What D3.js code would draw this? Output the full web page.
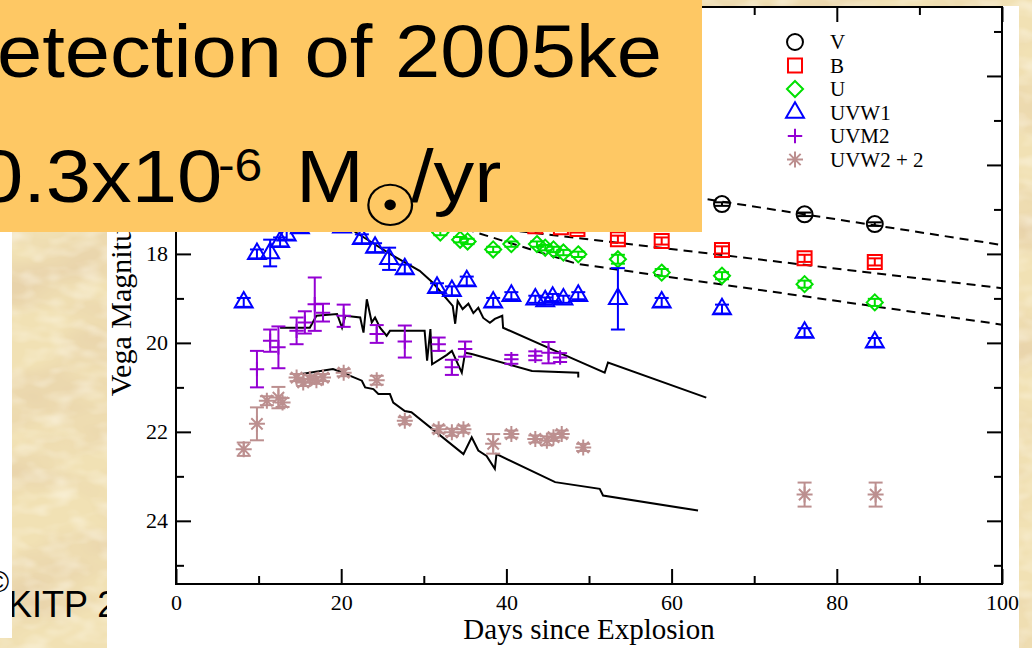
<!DOCTYPE html>
<html>
<head>
<meta charset="utf-8">
<script src="https://cdnjs.cloudflare.com/ajax/libs/d3/7.8.5/d3.min.js"></script>
<style>
  html, body { margin: 0; padding: 0; background: #efdcae; overflow: hidden; }
  svg { display: block; }
</style>
</head>
<body>
<svg id="chart" width="1032" height="648"></svg>
<script>
// ---- photometry of SN 2005ke (days since explosion, Vega magnitude, 1-sigma error) ----
const bandNames = ["V", "B", "U", "UVW1", "UVM2", "UVW2 + 2"];

const vDays = [66.1, 76.1, 84.6];
const vMags = [16.88, 17.11, 17.33];
const vErrs = [0.04, 0.04, 0.04];

const bDays = [43.5, 46.6, 48.6, 53.5, 58.8, 66.1, 76.1, 84.6];
const bMags = [17.38, 17.40, 17.44, 17.67, 17.71, 17.91, 18.10, 18.18];
const bErrs = [0.08, 0.08, 0.08, 0.08, 0.08, 0.08, 0.08, 0.08];

const uDays = [32.0, 34.4, 35.3, 38.4, 40.6, 43.7, 44.7, 45.7, 46.9, 48.7, 53.5, 58.8, 66.1, 76.1, 84.6];
const uMags = [17.52, 17.68, 17.72, 17.90, 17.78, 17.78, 17.86, 17.90, 17.97, 18.01, 18.12, 18.42, 18.49, 18.68, 19.09];
const uErrs = [0.06, 0.06, 0.06, 0.06, 0.06, 0.06, 0.06, 0.06, 0.06, 0.06, 0.1, 0.08, 0.08, 0.08, 0.08];

const uvw1Days = [8.2, 9.8, 11.4, 12.6, 13.4, 15.0, 20.1, 22.5, 24.1, 25.8, 27.7, 31.6, 33.4, 35.2, 38.4, 40.6, 43.5, 44.7, 45.6, 46.9, 48.7, 53.5, 58.8, 66.1, 76.1, 84.6];
const uvw1Mags = [19.09, 18.0, 17.98, 17.73, 17.58, 17.42, 17.40, 17.66, 17.86, 18.11, 18.34, 18.76, 18.83, 18.61, 19.09, 18.94, 19.02, 19.06, 18.98, 19.02, 18.94, 19.01, 19.09, 19.24, 19.77, 19.99];
const uvw1Errs = [0.1, 0.1, 0.3, 0.1, 0.1, 0.1, 0.1, 0.1, 0.1, 0.25, 0.1, 0.1, 0.1, 0.1, 0.1, 0.08, 0.08, 0.08, 0.08, 0.08, 0.08, 0.69, 0.1, 0.1, 0.1, 0.1];

const uvm2Days = [9.8, 11.4, 12.4, 14.6, 15.6, 16.8, 17.8, 20.3, 24.3, 27.7, 31.8, 33.4, 35.0, 40.6, 43.5, 45.1, 46.5];
const uvm2Mags = [20.59, 19.95, 20.1, 19.73, 19.54, 19.13, 19.32, 19.39, 19.8, 19.97, 20.03, 20.55, 20.14, 20.37, 20.29, 20.22, 20.33];
const uvm2Errs = [0.41, 0.25, 0.47, 0.3, 0.25, 0.6, 0.2, 0.25, 0.2, 0.36, 0.15, 0.17, 0.17, 0.1, 0.1, 0.24, 0.1];

const uvw2Days = [8.2, 9.8, 11.0, 12.4, 12.9, 14.6, 15.4, 16.2, 17.0, 17.8, 20.3, 24.3, 27.7, 31.8, 33.4, 34.8, 38.4, 40.6, 43.5, 44.9, 45.7, 46.7, 49.3, 76.1, 84.7];
const uvw2Mags = [22.39, 21.82, 21.30, 21.23, 21.34, 20.78, 20.89, 20.81, 20.84, 20.78, 20.67, 20.84, 21.75, 21.94, 22.01, 21.94, 22.27, 22.05, 22.16, 22.20, 22.12, 22.05, 22.35, 23.41, 23.41];
const uvw2Errs = [0.15, 0.37, 0.1, 0.24, 0.1, 0.08, 0.08, 0.08, 0.08, 0.08, 0.08, 0.1, 0.08, 0.08, 0.08, 0.08, 0.22, 0.08, 0.08, 0.1, 0.08, 0.08, 0.08, 0.27, 0.27];

// ---- model light curves (solid) ----
const uvw1ModelDays = [20.5, 21.9, 25.9, 29.5, 31.1, 33.5, 33.8, 34.1, 34.7, 35.4, 36.0, 36.6, 37.2, 38.0, 38.6, 39.5, 39.6, 48.1, 51.9, 52.3, 64.2];
const uvw1ModelMags = [17.37, 17.53, 18.0, 18.38, 18.65, 19.17, 19.57, 19.06, 19.24, 19.12, 19.33, 19.21, 19.44, 19.55, 19.46, 19.39, 19.66, 20.36, 20.67, 20.44, 21.23];

const uvm2ModelDays = [12.6, 16.2, 17.0, 19.5, 20.1, 20.5, 22.3, 22.7, 23.1, 23.7, 24.1, 24.7, 25.5, 25.9, 30.1, 30.4, 30.8, 31.0, 32.8, 33.4, 34.6, 35.0, 35.8, 43.1, 48.7, 48.7];
const uvm2ModelMags = [19.66, 19.66, 19.39, 19.35, 19.66, 19.39, 19.43, 19.77, 19.02, 19.54, 19.43, 19.66, 19.84, 19.73, 19.73, 20.4, 19.69, 20.48, 20.27, 20.18, 20.67, 20.22, 20.25, 20.63, 20.67, 20.78];

const uvw2ModelDays = [15.2, 19.0, 20.3, 21.1, 22.5, 22.9, 23.9, 24.5, 25.9, 26.3, 27.7, 28.5, 34.8, 35.8, 36.6, 37.6, 38.6, 38.8, 45.9, 51.3, 51.7, 63.2];
const uvw2ModelMags = [20.7, 20.59, 20.67, 20.74, 20.85, 21.0, 21.04, 21.15, 21.15, 21.34, 21.53, 21.56, 22.5, 22.12, 22.42, 22.54, 22.83, 22.5, 23.13, 23.28, 23.43, 23.77];

// ---- linear decline fits (dashed) ----
const vFitDays = [50, 100];
const vFitMags = [16.36, 17.80];
const bFitDays = [38, 100];
const bFitMags = [17.41, 18.77];
const uFitDays = [35, 48.5, 100];
const uFitMags = [17.44, 18.22, 19.59];

// ---- axis ticks ----
const xMajorTicks = [0, 20, 40, 60, 80, 100];
const xMinorTicks = [10, 30, 50, 70, 90];
const yLabelledTicks = [18, 20, 22, 24];
const yMajorTicks = [14, 16, 18, 20, 22, 24];
const yMinorTicks = [13, 15, 17, 19, 21, 23, 25];

const W = 1032, H = 648;
const svg = d3.select("#chart");
const defs = svg.append("defs");

// parchment texture: soft broad mottling with a faint grain
const f1 = defs.append("filter").attr("id", "parch")
  .attr("x", 0).attr("y", 0).attr("width", 1).attr("height", 1);
f1.append("feTurbulence").attr("type", "fractalNoise")
  .attr("baseFrequency", "0.008 0.016").attr("numOctaves", 3).attr("seed", 11).attr("result", "n");
f1.append("feColorMatrix").attr("in", "n").attr("type", "matrix")
  .attr("values", "0 0 0 0 0.80  0 0 0 0 0.64  0 0 0 0 0.40  2.2 0 0 0 -0.9");
const f2 = defs.append("filter").attr("id", "grain")
  .attr("x", 0).attr("y", 0).attr("width", 1).attr("height", 1);
f2.append("feTurbulence").attr("type", "fractalNoise")
  .attr("baseFrequency", "0.04 0.07").attr("numOctaves", 2).attr("seed", 4).attr("result", "n");
f2.append("feColorMatrix").attr("in", "n").attr("type", "matrix")
  .attr("values", "0 0 0 0 1  0 0 0 0 0.97  0 0 0 0 0.88  0 1.0 0 0 -0.42");

svg.append("rect").attr("width", W).attr("height", H).attr("fill", "#f1e1b4");
svg.append("rect").attr("width", W).attr("height", H).attr("filter", "url(#parch)");
svg.append("rect").attr("width", W).attr("height", H).attr("filter", "url(#grain)");

// footer text on the slide, partly under the figure
svg.append("text").attr("x", 8).attr("y", 617)
  .attr("font-family", "Liberation Sans, Arial, sans-serif").attr("font-size", 36)
  .attr("fill", "#000").text("KITP 2");

// white strip at the left edge of the slide
svg.append("rect").attr("x", 0).attr("y", 232).attr("width", 12).attr("height", 406).attr("fill", "#fff");
svg.append("text").attr("x", -13).attr("y", 592)
  .attr("font-family", "Liberation Sans, Arial, sans-serif").attr("font-size", 30)
  .attr("fill", "#000").text("©");

// figure panel
svg.append("rect").attr("x", 107).attr("y", 6).attr("width", 912).attr("height", 642).attr("fill", "#fff");

const x = d3.scaleLinear().domain([0, 100]).range([176, 1002]);
const y = d3.scaleLinear().domain([12.45, 25.42]).range([7, 584]);

const serif = "Liberation Serif, Times New Roman, serif";

// axes with inward ticks on all four sides
const axG = svg.append("g");
function addAxis(gen, tx, ty) {
  const g = axG.append("g").attr("transform", `translate(${tx},${ty})`).call(gen);
  g.attr("font-family", serif).attr("font-size", 22);
  g.select(".domain").remove();
  g.selectAll(".tick line").attr("stroke", "#000").attr("stroke-width", 2);
  g.selectAll(".tick text").attr("fill", "#000");
  return g;
}
addAxis(d3.axisBottom(x).tickValues(xMinorTicks).tickSizeInner(-8).tickSizeOuter(0).tickFormat(""), 0, 584);
addAxis(d3.axisBottom(x).tickValues(xMajorTicks).tickSizeInner(-15).tickSizeOuter(0).tickPadding(10).tickFormat(d3.format("d")), 0, 584);
addAxis(d3.axisTop(x).tickValues(xMinorTicks).tickSizeInner(-8).tickSizeOuter(0).tickFormat(""), 0, 7);
addAxis(d3.axisTop(x).tickValues(xMajorTicks).tickSizeInner(-15).tickSizeOuter(0).tickFormat(""), 0, 7);
addAxis(d3.axisLeft(y).tickValues(yMinorTicks).tickSizeInner(-8).tickSizeOuter(0).tickFormat(""), 176, 0);
addAxis(d3.axisLeft(y).tickValues(yMajorTicks).tickSizeInner(-15).tickSizeOuter(0).tickFormat(""), 176, 0);
addAxis(d3.axisLeft(y).tickValues(yLabelledTicks).tickSizeInner(0).tickSizeOuter(0).tickPadding(8).tickFormat(d3.format("d")), 176, 0);
addAxis(d3.axisRight(y).tickValues(yMinorTicks).tickSizeInner(-8).tickSizeOuter(0).tickFormat(""), 1002, 0);
addAxis(d3.axisRight(y).tickValues(yMajorTicks).tickSizeInner(-15).tickSizeOuter(0).tickFormat(""), 1002, 0);

// plot frame
svg.append("rect").attr("x", x(0)).attr("y", y.range()[0])
  .attr("width", x(100) - x(0)).attr("height", y.range()[1] - y.range()[0])
  .attr("fill", "none").attr("stroke", "#000").attr("stroke-width", 2);

// axis titles
svg.append("text").attr("x", (x(0) + x(100)) / 2).attr("y", 639)
  .attr("text-anchor", "middle").attr("font-family", serif).attr("font-size", 29)
  .attr("fill", "#000").text("Days since Explosion");
svg.append("text").attr("transform", `translate(131,${(y.range()[0] + y.range()[1]) / 2 + 2}) rotate(-90)`)
  .attr("text-anchor", "middle").attr("font-family", serif).attr("font-size", 30)
  .attr("fill", "#000").text("Vega Magnitude");

// eight-armed star marker
const symbolStar8 = {
  draw(ctx, size) {
    const r = Math.sqrt(size) / 2, d = r * Math.SQRT1_2;
    ctx.moveTo(-r, 0); ctx.lineTo(r, 0);
    ctx.moveTo(0, -r); ctx.lineTo(0, r);
    ctx.moveTo(-d, -d); ctx.lineTo(d, d);
    ctx.moveTo(-d, d); ctx.lineTo(d, -d);
  }
};

const bandStyles = [
  { color: "#000000", type: d3.symbolCircle, size: 200 },
  { color: "#ff0000", type: d3.symbolSquare2, size: 250 },
  { color: "#00e000", type: d3.symbolDiamond2, size: 165 },
  { color: "#0000ff", type: d3.symbolTriangle2, size: 230 },
  { color: "#9400d3", type: d3.symbolPlus, size: 70 },
  { color: "#bc8f8f", type: symbolStar8, size: 256 }
];

const bandData = [
  d3.zip(vDays, vMags, vErrs),
  d3.zip(bDays, bMags, bErrs),
  d3.zip(uDays, uMags, uErrs),
  d3.zip(uvw1Days, uvw1Mags, uvw1Errs),
  d3.zip(uvm2Days, uvm2Mags, uvm2Errs),
  d3.zip(uvw2Days, uvw2Mags, uvw2Errs)
];

const line = d3.line().x(d => x(d[0])).y(d => y(d[1]));

// dashed decline fits
const fitG = svg.append("g").attr("fill", "none").attr("stroke", "#000")
  .attr("stroke-width", 2).attr("stroke-dasharray", "9,6");
[[vFitDays, vFitMags], [bFitDays, bFitMags], [uFitDays, uFitMags]].forEach(([d, m]) => {
  fitG.append("path").attr("d", line(d3.zip(d, m)));
});

// model curves
const modG = svg.append("g").attr("fill", "none").attr("stroke", "#000")
  .attr("stroke-width", 2).attr("stroke-linejoin", "miter");
[[uvw1ModelDays, uvw1ModelMags], [uvm2ModelDays, uvm2ModelMags], [uvw2ModelDays, uvw2ModelMags]].forEach(([d, m]) => {
  modG.append("path").attr("d", line(d3.zip(d, m)));
});

// data points with error bars
const capHalf = 7;
bandData.forEach((pts, i) => {
  const st = bandStyles[i];
  const g = svg.append("g").attr("stroke", st.color).attr("stroke-width", 2).attr("fill", "none");
  const eb = g.selectAll("g.eb").data(pts).join("g").attr("class", "eb");
  eb.append("line").attr("x1", d => x(d[0])).attr("x2", d => x(d[0]))
    .attr("y1", d => y(d[1] - d[2])).attr("y2", d => y(d[1] + d[2]));
  eb.append("line").attr("x1", d => x(d[0]) - capHalf).attr("x2", d => x(d[0]) + capHalf)
    .attr("y1", d => y(d[1] - d[2])).attr("y2", d => y(d[1] - d[2]));
  eb.append("line").attr("x1", d => x(d[0]) - capHalf).attr("x2", d => x(d[0]) + capHalf)
    .attr("y1", d => y(d[1] + d[2])).attr("y2", d => y(d[1] + d[2]));
  g.selectAll("path.mk").data(pts).join("path").attr("class", "mk")
    .attr("transform", d => `translate(${x(d[0])},${y(d[1])})`)
    .attr("d", d3.symbol().type(st.type).size(st.size));
});

// legend
const legendRows = [42, 65.5, 89, 112.5, 136, 159.5];
const lg = svg.append("g");
bandNames.forEach((name, i) => {
  const st = bandStyles[i];
  lg.append("path").attr("transform", `translate(795,${legendRows[i]})`)
    .attr("d", d3.symbol().type(st.type).size(st.size))
    .attr("fill", "none").attr("stroke", st.color).attr("stroke-width", 2);
  lg.append("text").attr("x", 830).attr("y", legendRows[i]).attr("dy", "0.35em")
    .attr("font-family", serif).attr("font-size", 21).attr("fill", "#000").text(name);
});

// title box
svg.append("rect").attr("x", 0).attr("y", 0).attr("width", 702).attr("height", 232).attr("fill", "#fec864");
const sans = "Liberation Sans, Arial, sans-serif";
function titleText(str, tx, ty, size, family) {
  svg.append("text").attr("transform", `translate(${tx},${ty}) scale(1.085,1)`)
    .attr("font-family", family || sans).attr("font-size", size).attr("fill", "#000").text(str);
}
titleText("etection of 2005ke", -3, 77, 75);
titleText("0.3x10", -22, 202, 75);
titleText("-6", 218, 181, 46);
titleText("M", 296, 202, 75);
titleText("☉", 362, 226, 58, "DejaVu Sans, sans-serif");
titleText("/yr", 411, 202, 75);
</script>
</body>
</html>
